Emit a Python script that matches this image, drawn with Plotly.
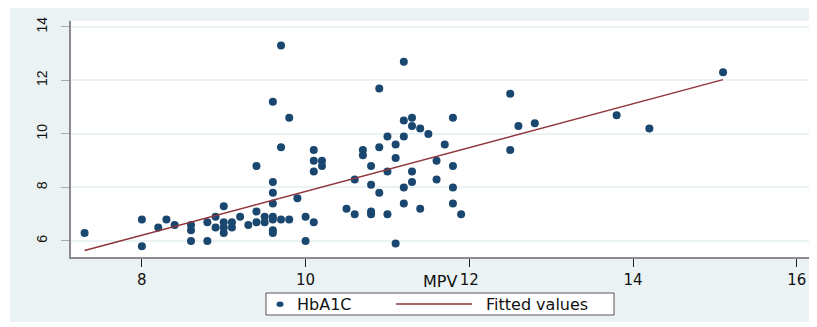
import plotly.graph_objects as go

# Data
mpv = [7.3, 8.0, 8.0, 8.2, 8.3, 8.4, 8.6, 8.6, 8.6, 8.8, 8.8, 8.9, 8.9, 9.0, 9.0, 9.1,
       9.0, 9.1, 9.0, 9.2, 9.3, 9.4, 9.4, 9.4, 9.5, 9.5, 9.6, 9.6, 9.6, 9.6, 9.6, 9.6,
       9.6, 9.6, 9.7, 9.7, 9.7, 9.8, 9.8, 9.9, 10.0, 10.0, 10.1, 10.1, 10.1, 10.2, 10.2,
       10.1, 10.5, 10.6, 10.6, 10.7, 10.7, 10.8, 10.8, 10.8, 10.8, 10.9, 10.9, 10.9,
       11.0, 11.0, 11.0, 11.1, 11.1, 11.1, 11.2, 11.2, 11.2, 11.2, 11.2, 11.3, 11.3,
       11.3, 11.3, 11.4, 11.4, 11.5, 11.6, 11.6, 11.7, 11.8, 11.8, 11.8, 11.8, 11.9,
       12.5, 12.5, 12.6, 12.8, 13.8, 14.2, 15.1]
hba1c = [6.3, 6.8, 5.8, 6.5, 6.8, 6.6, 6.6, 6.4, 6.0, 6.7, 6.0, 6.9, 6.5, 7.3, 6.7, 6.7,
         6.5, 6.5, 6.3, 6.9, 6.6, 7.1, 8.8, 6.7, 6.9, 6.7, 8.2, 7.8, 7.4, 6.9, 6.8, 6.4,
         6.3, 11.2, 13.3, 9.5, 6.8, 6.8, 10.6, 7.6, 6.9, 6.0, 6.7, 8.6, 9.0, 9.0, 8.8,
         9.4, 7.2, 8.3, 7.0, 9.4, 9.2, 8.8, 8.1, 7.1, 7.0, 7.8, 9.5, 11.7,
         9.9, 8.6, 7.0, 9.6, 9.1, 5.9, 12.7, 10.5, 9.9, 8.0, 7.4, 10.6, 10.3,
         8.6, 8.2, 10.2, 7.2, 10.0, 9.0, 8.3, 9.6, 10.6, 8.8, 8.0, 7.4, 7.0,
         11.5, 9.4, 10.3, 10.4, 10.7, 10.2, 12.3]
fit_x = [7.3, 15.1]
fit_y = [5.64, 12.03]
x_ticks = [8, 10, 12, 14, 16]
y_ticks = [6, 8, 10, 12, 14]

NAVY = "#1a476f"
MAROON = "#90353b"
BG = "#eaf2f3"

fig = go.Figure()
fig.add_trace(go.Scatter(x=mpv, y=hba1c, mode="markers", name="HbA1C",
                         marker=dict(color=NAVY, size=8, line=dict(width=0)),
                         showlegend=False))
fig.add_trace(go.Scatter(x=fit_x, y=fit_y, mode="lines", name="Fitted values",
                         line=dict(color=MAROON, width=1.5), showlegend=False))

# page body has an 8px margin, so the figure starts at (8, 8) of the window
OFF = 8
W, H = 809, 314
L, R, T, B = 63, 8, 13, 65
PW, PH = W - L - R, H - T - B

def px(xp):  # window pixel -> paper x
    return (xp - OFF - L) / PW

def py(yp):  # window pixel -> paper y
    return (H - B - (yp - OFF)) / PH

shapes = [
    # small white inset on the left edge
    dict(type="rect", xref="paper", yref="paper", x0=px(0), x1=px(10), y0=py(400), y1=py(-10),
         fillcolor="white", line=dict(width=0), layer="below"),
    # legend box
    dict(type="rect", xref="paper", yref="paper", x0=px(266), x1=px(614), y0=py(315), y1=py(293),
         fillcolor="white", line=dict(color="#555555", width=1)),
    # legend marker
    dict(type="circle", xref="paper", yref="paper", x0=px(276.5), x1=px(283.5), y0=py(307), y1=py(301.5),
         fillcolor=NAVY, line=dict(width=0)),
    # legend line
    dict(type="line", xref="paper", yref="paper", x0=px(396), x1=px(472), y0=py(304), y1=py(304),
         line=dict(color=MAROON, width=1.5)),
]

annotations = [
    dict(text="HbA1C", xref="paper", yref="paper", x=px(295), y=py(304), xanchor="left",
         yanchor="middle", showarrow=False, font=dict(family="DejaVu Sans", size=16, color="#111111")),
    dict(text="Fitted values", xref="paper", yref="paper", x=px(484), y=py(304), xanchor="left",
         yanchor="middle", showarrow=False, font=dict(family="DejaVu Sans", size=16, color="#111111")),
    dict(text="MPV", xref="paper", yref="paper", x=0.5, y=py(281), xanchor="center",
         yanchor="middle", showarrow=False, font=dict(family="DejaVu Sans", size=16, color="#111111")),
]

fig.update_layout(
    width=W, height=H,
    margin=dict(l=L, r=R, t=T, b=B),
    paper_bgcolor=BG, plot_bgcolor="white",
    showlegend=False,
    shapes=shapes, annotations=annotations,
    xaxis=dict(range=[7.134, 16.15], tickvals=x_ticks, ticktext=[str(v) for v in x_ticks],
               automargin=False,
               showgrid=False, zeroline=False, showline=True, linecolor="#8a8a8a", linewidth=1.5,
               ticks="outside", ticklen=8, tickcolor="#222222", tickwidth=1,
               tickfont=dict(family="DejaVu Sans", size=15, color="#111111")),
    yaxis=dict(range=[5.40, 14.22], tickvals=y_ticks, ticktext=[str(v) for v in y_ticks],
               automargin=False,
               showgrid=True, gridcolor=BG, gridwidth=1.5, zeroline=False,
               showline=True, linecolor="#8a8a8a", linewidth=1.5,
               ticks="outside", ticklen=8, tickcolor="#aaaaaa", tickwidth=1,
               tickangle=-90, ticklabelstandoff=9,
               tickfont=dict(family="Liberation Sans", size=14, color="#111111")),
)

fig.write_html("out.html")
